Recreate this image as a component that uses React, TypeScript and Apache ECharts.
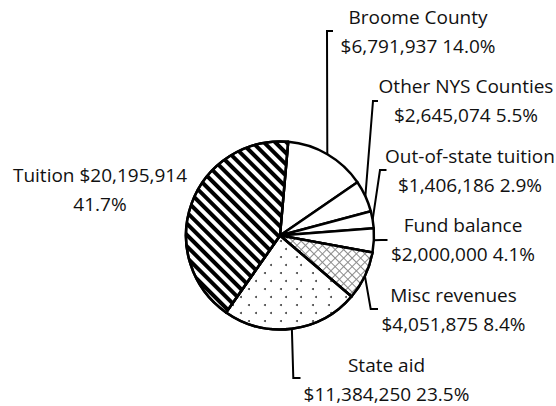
import React, { useEffect, useRef } from "react";
import * as echarts from "echarts";

const categories = [
  "Broome County",
  "Other NYS Counties",
  "Out-of-state tuition",
  "Fund balance",
  "Misc revenues",
  "State aid",
  "Tuition",
];
const values = [6791937, 2645074, 1406186, 2000000, 4051875, 11384250, 20195914];

// label block centres and leader-line bends (layout only)
const labelLayouts: { x: number; y: number; corner?: number[]; end?: number[] }[] = [
  { x: 418, y: 31, corner: [327, 31], end: [333, 31] },
  { x: 466, y: 100, corner: [373, 101], end: [378, 101] },
  { x: 470, y: 170.5, corner: [380, 170], end: [386.5, 170] },
  { x: 463, y: 239.5, corner: [381, 240], end: [387.5, 240] },
  { x: 453.5, y: 309, corner: [370.7, 309], end: [378, 309] },
  { x: 386.5, y: 379, corner: [293.3, 378], end: [300.5, 378] },
  { x: 100, y: 189.5 },
];

const CX = 280;
const CY = 235.5;
const R = 94;
const START = 85;

const decals: any[] = [
  null,
  null,
  null,
  null,
  {
    symbol: "rect",
    symbolSize: 1,
    color: "#ffffff",
    dashArrayX: [5, 1],
    dashArrayY: [5, 1],
    rotation: Math.PI / 4,
  },
  {
    symbol: "circle",
    symbolSize: 1,
    color: "#444444",
    dashArrayX: [
      [2, 13],
      [0, 7.5, 2, 5.5],
    ],
    dashArrayY: [2, 5.7],
    rotation: 0,
  },
  {
    symbol: "rect",
    symbolSize: 1,
    color: "#000000",
    dashArrayX: [1, 0],
    dashArrayY: [3.6, 3.6],
    rotation: Math.PI / 4,
  },
];
const fills = ["#ffffff", "#ffffff", "#ffffff", "#ffffff", "#8c8c8c", "#ffffff", "#ffffff"];

export default function App() {
  const ref = useRef<HTMLDivElement>(null);
  useEffect(() => {
    if (!ref.current) return;
    const chart = echarts.init(ref.current, null, { renderer: "svg" });
    const total = values.reduce((a, b) => a + b, 0);
    const edgePoint = (i: number) => {
      let cum = 0;
      for (let k = 0; k < i; k++) cum += values[k];
      const mid = (cum + values[i] / 2) / total;
      const th = ((90 - START) * Math.PI) / 180 + mid * 2 * Math.PI;
      return [CX + R * Math.sin(th), CY - R * Math.cos(th)];
    };
    const data = categories.map((name, i) => ({
      name,
      value: values[i],
      itemStyle: {
        color: fills[i],
        decal: decals[i] || undefined,
      },
      labelLine: { show: i !== 6 },
    }));
    chart.setOption({
      animation: false,
      series: [
        {
          type: "pie",
          center: [CX, CY],
          radius: R,
          startAngle: START,
          clockwise: true,
          avoidLabelOverlap: false,
          emphasis: { disabled: true },
          itemStyle: { borderColor: "#000", borderWidth: 2.5 },
          label: {
            show: true,
            position: "outside",
            fontFamily: "Open Sans",
            fontSize: 19,
            lineHeight: 29,
            color: "#111",
            align: "center",
            formatter: (p: any) => {
              const v = "$" + Number(p.value).toLocaleString("en-US");
              const pct = ((Number(p.value) / total) * 100).toFixed(1) + "%";
              if (p.dataIndex === 6) return p.name + " " + v + "\n" + pct;
              return p.name + "\n" + v + " " + pct;
            },
          },
          labelLine: {
            show: true,
            lineStyle: { color: "#000", width: 2 },
          },
          labelLayout: (p: any) => {
            const L = labelLayouts[p.dataIndex];
            const res: any = { x: L.x, y: L.y, align: "center", verticalAlign: "middle" };
            if (L.corner && L.end) {
              res.labelLinePoints = [edgePoint(p.dataIndex), L.corner, L.end];
            }
            return res;
          },
          data,
        },
      ],
    });
    return () => chart.dispose();
  }, []);
  return (
    <div
      ref={ref}
      style={{ position: "fixed", left: 0, top: 0, width: 556, height: 406, background: "#fff" }}
    />
  );
}
